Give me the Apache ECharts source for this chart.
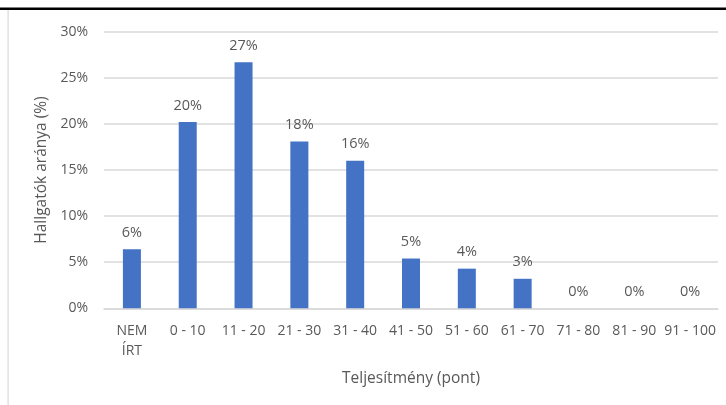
<!DOCTYPE html>
<html>
<head>
<meta charset="utf-8">
<script src="https://cdn.jsdelivr.net/npm/echarts@6/dist/echarts.min.js"></script>
<style>
html,body{margin:0;padding:0;background:#fff;}
#chart{width:726px;height:405px;}
</style>
</head>
<body>
<div id="chart"></div>
<script>
const categories = ['NEM\nÍRT', '0 - 10', '11 - 20', '21 - 30', '31 - 40', '41 - 50', '51 - 60', '61 - 70', '71 - 80', '81 - 90', '91 - 100'];
const shares = [6.4, 20.2, 26.7, 18.1, 16.0, 5.4, 4.3, 3.2, 0, 0, 0];
const yTicks = [0, 5, 10, 15, 20, 25, 30];
const xTitle = 'Teljesítmény (pont)';
const yTitle = 'Hallgatók aránya (%)';

const FONT = '"Open Sans", "Liberation Sans", sans-serif';
const chart = echarts.init(document.getElementById('chart'), null, {renderer: 'canvas'});
chart.setOption({
  animation: false,
  backgroundColor: '#ffffff',
  grid: {left: 104, right: 8, top: 31.7, bottom: 96.7, containLabel: false},
  xAxis: {
    type: 'category',
    data: categories,
    name: xTitle,
    nameLocation: 'middle',
    nameGap: 62,
    nameTextStyle: {color: '#595959', fontSize: 15.5, fontFamily: FONT},
    axisLine: {show: true, lineStyle: {color: '#d9d9d9', width: 1.5}},
    axisTick: {show: false},
    axisLabel: {color: '#595959', fontSize: 14, fontFamily: FONT, margin: 13, lineHeight: 20, interval: 0}
  },
  yAxis: {
    type: 'value',
    min: yTicks[0],
    max: yTicks[yTicks.length - 1],
    interval: 5,
    name: yTitle,
    nameLocation: 'middle',
    nameGap: 53,
    nameRotate: 90,
    nameTextStyle: {color: '#595959', fontSize: 15.5, fontFamily: FONT},
    axisLine: {show: false},
    axisTick: {show: false},
    axisLabel: {color: '#595959', fontSize: 14, fontFamily: FONT, margin: 16, formatter: v => v + '%'},
    splitLine: {lineStyle: {color: '#d9d9d9', width: 1.5}}
  },
  series: [{
    type: 'bar',
    data: shares,
    barWidth: 18,
    itemStyle: {color: '#4472c4'},
    label: {
      show: true,
      position: 'top',
      distance: 9,
      color: '#595959',
      fontSize: 14.5,
      fontFamily: FONT,
      formatter: p => Math.round(p.value) + '%'
    }
  }],
  graphic: [
    {type: 'rect', shape: {x: 0, y: 7.5, width: 726, height: 2.5}, style: {fill: '#000000'}, silent: true},
    {type: 'rect', shape: {x: 7.5, y: 10, width: 1.2, height: 395}, style: {fill: '#d9d9d9'}, silent: true}
  ]
});
</script>
</body>
</html>
